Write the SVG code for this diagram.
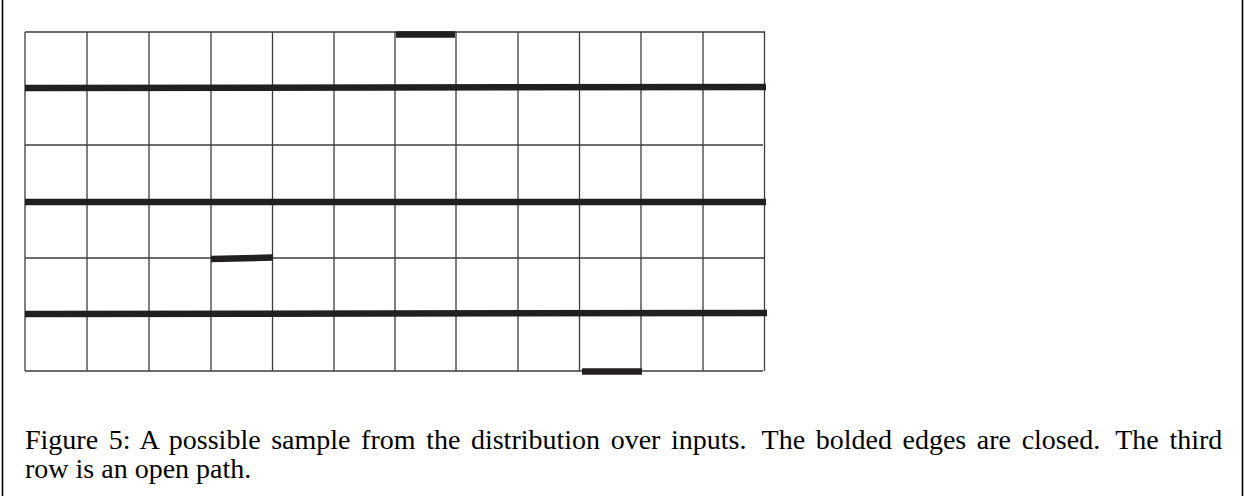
<svg xmlns="http://www.w3.org/2000/svg" width="1245" height="496" viewBox="0 0 1245 496">
<style>
.g{stroke:#3c3c3c;stroke-width:1.3;fill:none}
.b{stroke:#231f20;stroke-width:6.5;fill:none}
.f{stroke:#000;stroke-width:1.6;fill:none}
.t{font-family:"Liberation Serif","Times New Roman",serif;font-size:28px;fill:#000}
</style>
<rect width="1245" height="496" fill="#fff"/>
<g id="frame">
<line class="f" x1="2.5" y1="0" x2="2.5" y2="496"/>
<line class="f" x1="1242.5" y1="0" x2="1242.5" y2="496"/>
</g>
<g id="grid">
<line class="g" x1="25" y1="32" x2="765" y2="32"/>
<line class="g" x1="25" y1="88" x2="765" y2="88"/>
<line class="g" x1="25" y1="145" x2="763" y2="145"/>
<line class="g" x1="25" y1="202" x2="765" y2="202"/>
<line class="g" x1="25" y1="258" x2="765" y2="258"/>
<line class="g" x1="25" y1="314" x2="765" y2="314"/>
<line class="g" x1="25" y1="371" x2="763" y2="371"/>
<line class="g" x1="25" y1="32" x2="25" y2="371"/>
<line class="g" x1="87" y1="32" x2="87" y2="371"/>
<line class="g" x1="149" y1="32" x2="149" y2="371"/>
<line class="g" x1="211" y1="32" x2="211" y2="371"/>
<line class="g" x1="272.5" y1="32" x2="272.5" y2="371"/>
<line class="g" x1="334" y1="32" x2="334" y2="371"/>
<line class="g" x1="395" y1="32" x2="395" y2="371"/>
<line class="g" x1="456" y1="32" x2="456" y2="371"/>
<line class="g" x1="518" y1="32" x2="518" y2="371"/>
<line class="g" x1="579.5" y1="32" x2="579.5" y2="371"/>
<line class="g" x1="641" y1="32" x2="641" y2="371"/>
<line class="g" x1="703" y1="32" x2="703" y2="371"/>
<line class="g" x1="764.5" y1="32" x2="764.5" y2="371"/>
</g>
<g id="closed-edges">
<line class="b" x1="25" y1="88" x2="766" y2="87"/>
<line class="b" x1="25" y1="202" x2="766" y2="202"/>
<line class="b" x1="25" y1="314" x2="767" y2="313"/>
<line class="b" x1="396" y1="34.5" x2="455" y2="34.5"/>
<line class="b" x1="211" y1="259" x2="273" y2="257.5"/>
<line class="b" x1="582" y1="371.5" x2="642" y2="371.5"/>
</g>
<g id="caption">
<text class="t" x="25" y="449" word-spacing="3.6">Figure 5: A possible sample from the distribution over inputs.<tspan dx="5"> The bolded edges are closed.</tspan><tspan dx="5"> The third</tspan></text>
<text class="t" x="25" y="478">row is an open path.</text>
</g>
</svg>
